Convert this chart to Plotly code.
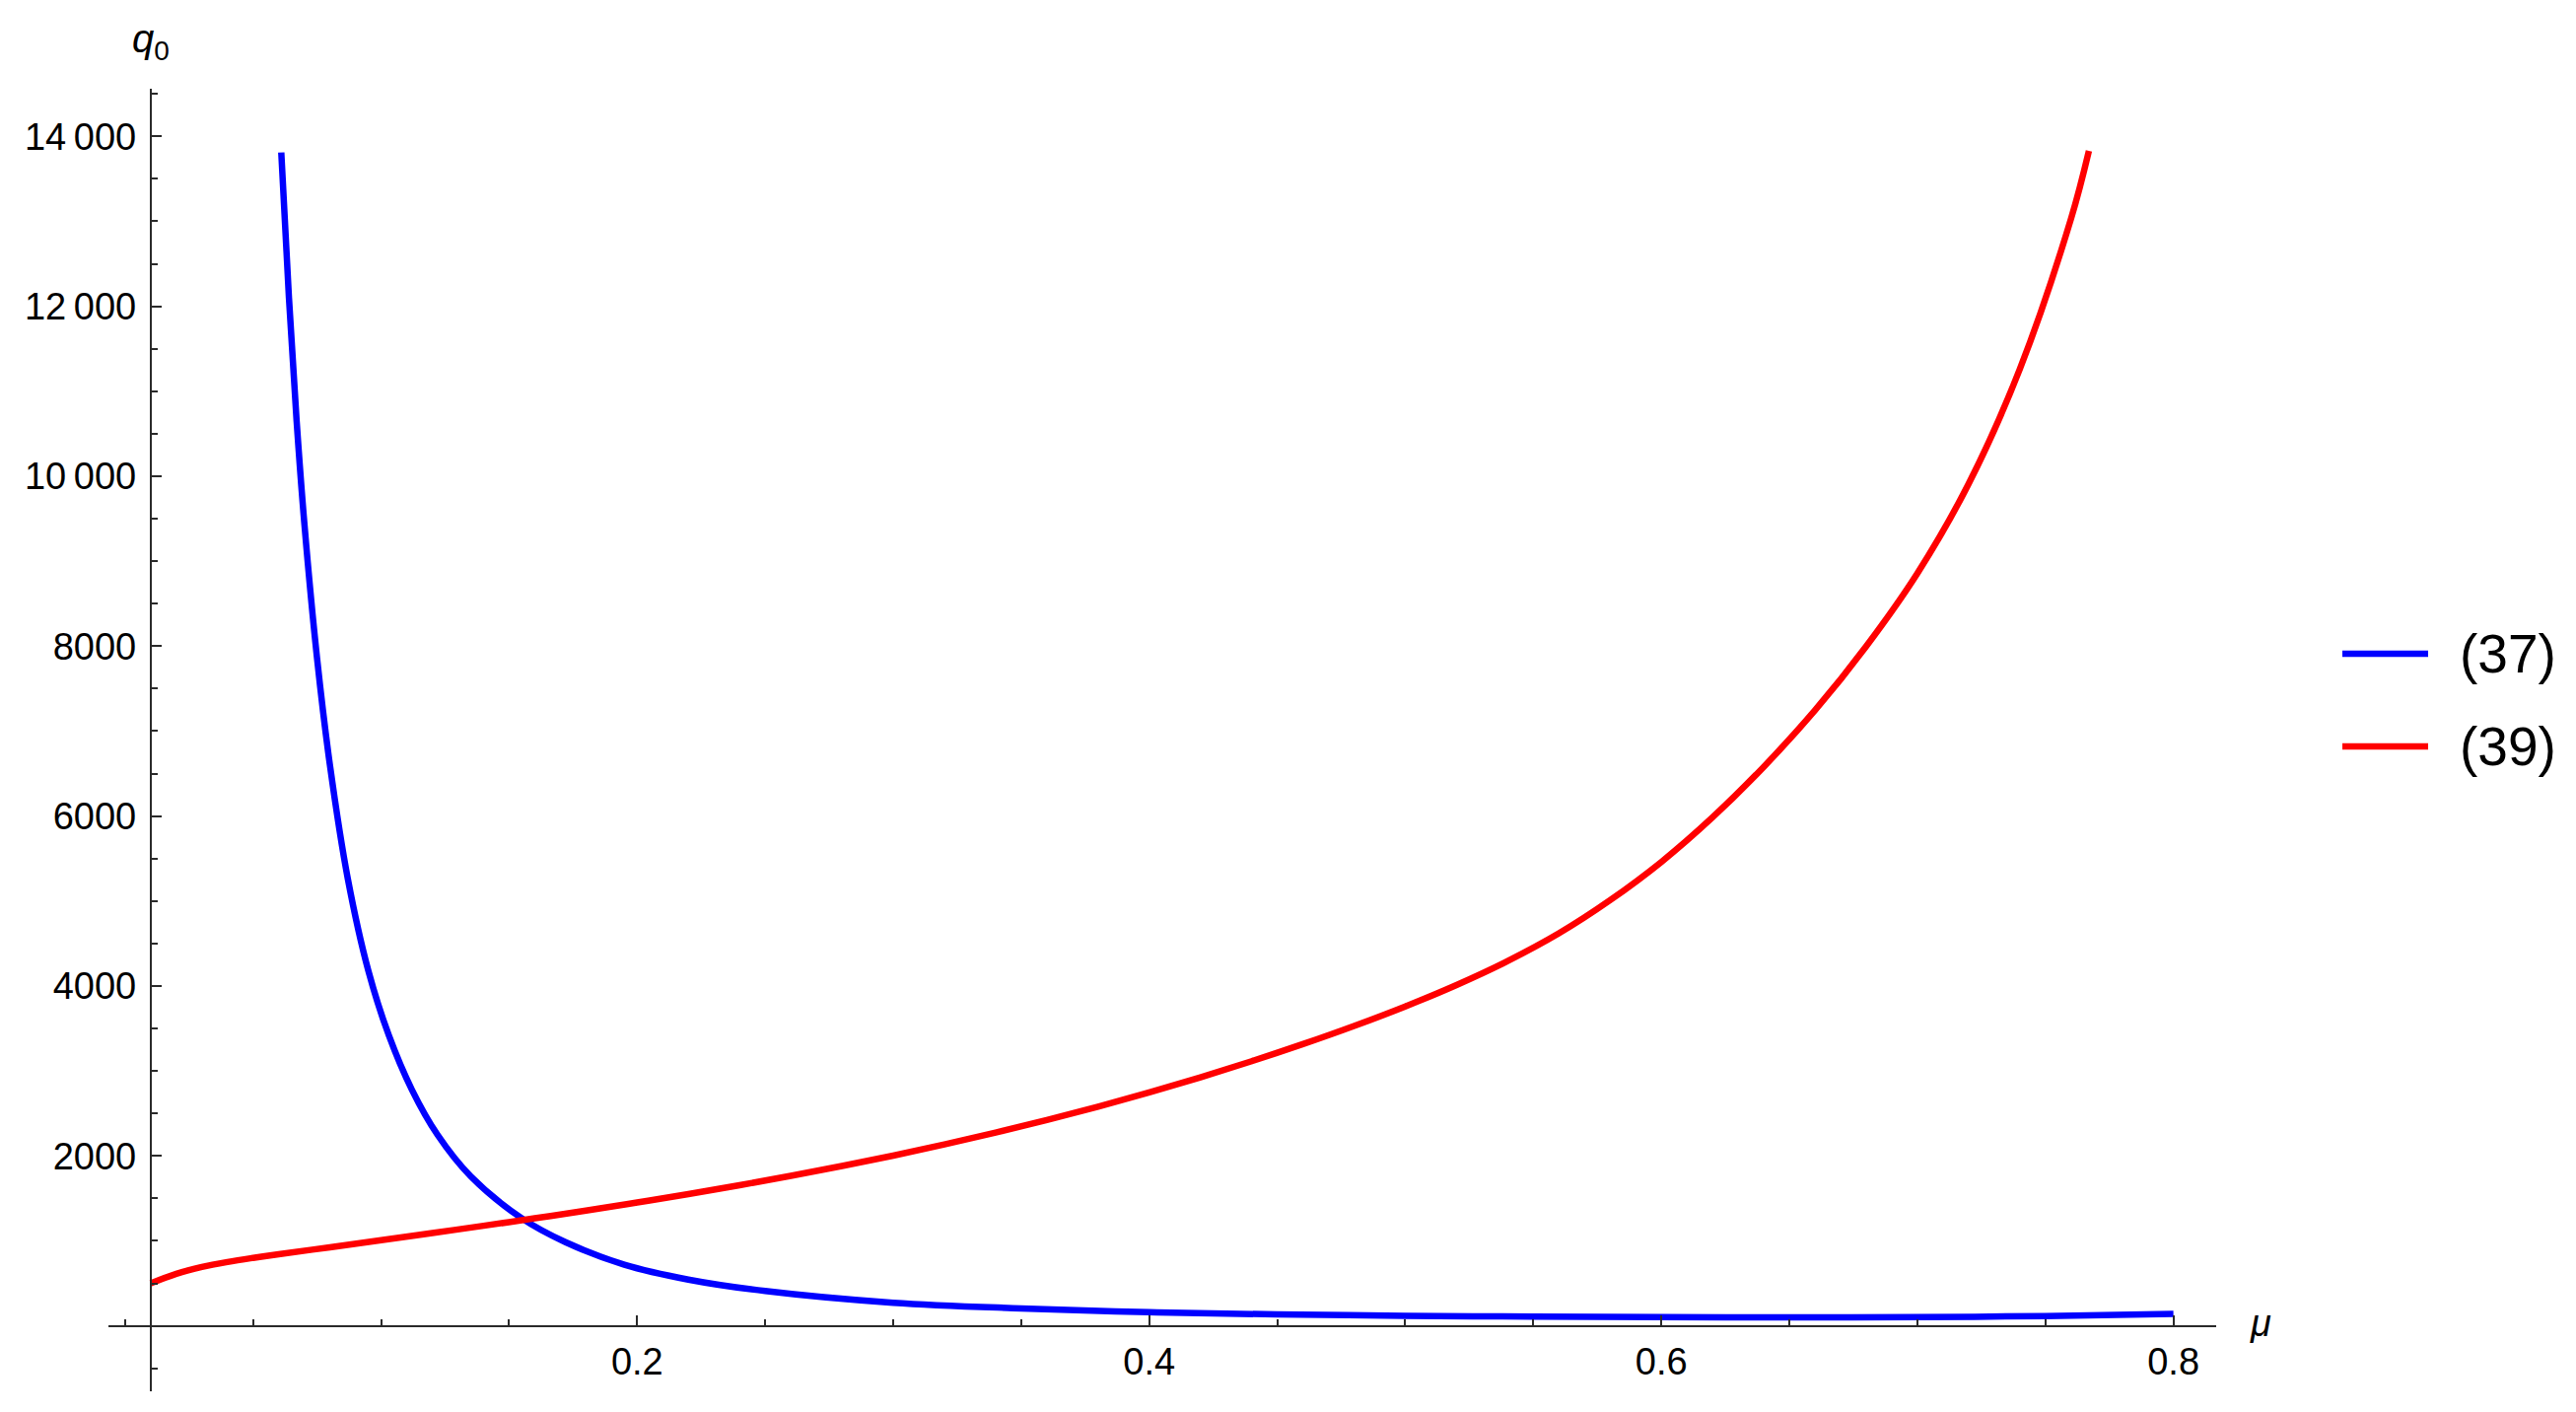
import plotly.graph_objects as go

# ---------------- data ----------------
series_names = ["(37)", "(39)"]
series_colors = ["#0000FF", "#FF0000"]

mu_37 = [0.061, 0.064, 0.067, 0.070, 0.075, 0.080, 0.087, 0.095, 0.103, 0.112,
         0.122, 0.135, 0.155, 0.172, 0.195, 0.220, 0.250, 0.300, 0.350, 0.400,
         0.450, 0.500, 0.550, 0.600, 0.650, 0.700, 0.750, 0.800]
q0_37 = [13810, 12100, 10650, 9450, 7850, 6600, 5260, 4180, 3420, 2780,
         2250, 1760, 1265, 985, 720, 545, 410, 272, 205, 160,
         135, 119, 109, 103, 101, 104, 115, 140]

mu_39 = [0.010, 0.020, 0.030, 0.040, 0.050, 0.060, 0.080, 0.100, 0.120, 0.140,
         0.160, 0.180, 0.200, 0.220, 0.240, 0.260, 0.280, 0.300, 0.320, 0.340,
         0.360, 0.380, 0.400, 0.420, 0.440, 0.460, 0.480, 0.500, 0.520, 0.540,
         0.560, 0.580, 0.600, 0.620, 0.640, 0.660, 0.680, 0.700, 0.720, 0.740,
         0.760, 0.767]
q0_39 = [500, 612, 693, 752, 800, 843, 925, 1008, 1092, 1178,
         1266, 1357, 1452, 1551, 1655, 1765, 1881, 2004, 2135, 2274,
         2422, 2580, 2748, 2926, 3115, 3316, 3530, 3760, 4012, 4294,
         4620, 5010, 5460, 5985, 6580, 7244, 7998, 8857, 9909, 11260,
         13030, 13830]

x_tick_vals = [0.2, 0.4, 0.6, 0.8]
x_tick_text = ["0.2", "0.4", "0.6", "0.8"]
y_tick_vals = [2000, 4000, 6000, 8000, 10000, 12000, 14000]
y_tick_text = ["2000", "4000", "6000", "8000", "10\u2009000", "12\u2009000", "14\u2009000"]
x_minor_vals = [0.0, 0.05, 0.1, 0.15, 0.25, 0.3, 0.35, 0.45, 0.5, 0.55, 0.65, 0.7, 0.75]
y_minor_vals = [-500, 500, 1000, 1500, 2500, 3000, 3500, 4500, 5000, 5500, 6500, 7000, 7500,
                8500, 9000, 9500, 10500, 11000, 11500, 12500, 13000, 13500, 14500]

x_title = "<i>μ</i>"
y_title = "<i>q</i><sub>0</sub>"

# ---------------- layout constants ----------------
PAGE_W, PAGE_H = 2613, 1432
OFF = 8                      # default body margin of the html page
W, H = PAGE_W - 2 * OFF, PAGE_H - 2 * OFF
PLOT_X0, PLOT_X1 = 110, 2248  # plot area on the page (pixels)
PLOT_Y0, PLOT_Y1 = 90, 1411
ML = PLOT_X0 - OFF
MT = PLOT_Y0 - OFF
PW = PLOT_X1 - PLOT_X0
PH = PLOT_Y1 - PLOT_Y0
MR = W - ML - PW
MB = H - MT - PH

X_RANGE = [-0.0065, 0.8167]
Y_RANGE = [-770, 14560]
Y_AXIS_AT = 0.01   # mu where the vertical axis crosses
X_AXIS_AT = 0.0    # q0 where the horizontal axis crosses
FONT = "Liberation Sans, Arial, sans-serif"
AX_COLOR = "#2a2a2a"
LINE_W = 6.5


def px_to_paper_x(px):
    return (px - PLOT_X0) / PW


def px_to_paper_y(py):
    return (PLOT_Y1 - py) / PH


yaxis_pos = (Y_AXIS_AT - X_RANGE[0]) / (X_RANGE[1] - X_RANGE[0])
xaxis_pos = (X_AXIS_AT - Y_RANGE[0]) / (Y_RANGE[1] - Y_RANGE[0])

fig = go.Figure()
for name, color, xs, ys in [(series_names[0], series_colors[0], mu_37, q0_37),
                            (series_names[1], series_colors[1], mu_39, q0_39)]:
    fig.add_trace(go.Scatter(x=xs, y=ys, mode="lines", name=name,
                             line=dict(color=color, width=LINE_W, shape="spline", smoothing=1.0),
                             showlegend=False))

fig.update_layout(
    width=W, height=H,
    margin=dict(l=ML, r=MR, t=MT, b=MB, autoexpand=False),
    paper_bgcolor="white", plot_bgcolor="white",
    font=dict(family=FONT, color="black", size=38),
    showlegend=False,
    xaxis=dict(
        range=X_RANGE, anchor="free", position=xaxis_pos,
        showgrid=False, zeroline=False, showline=True, linecolor=AX_COLOR, linewidth=2,
        tickmode="array", tickvals=x_tick_vals, ticktext=x_tick_text,
        ticks="inside", ticklen=10, tickwidth=1.8, tickcolor=AX_COLOR,
        ticklabelstandoff=3,
        tickfont=dict(family=FONT, size=38, color="black"),
        minor=dict(tickmode="array", tickvals=x_minor_vals, ticks="inside",
                   ticklen=6, tickwidth=1.5, tickcolor=AX_COLOR, showgrid=False),
        automargin=False,
    ),
    yaxis=dict(
        range=Y_RANGE, anchor="free", position=yaxis_pos,
        showgrid=False, zeroline=False, showline=True, linecolor=AX_COLOR, linewidth=2,
        tickmode="array", tickvals=y_tick_vals, ticktext=y_tick_text,
        ticks="inside", ticklen=10, tickwidth=1.8, tickcolor=AX_COLOR,
        ticklabelstandoff=6,
        tickfont=dict(family=FONT, size=38, color="black"),
        minor=dict(tickmode="array", tickvals=y_minor_vals, ticks="inside",
                   ticklen=6, tickwidth=1.5, tickcolor=AX_COLOR, showgrid=False),
        automargin=False,
    ),
)

# axis titles
fig.add_annotation(text=y_title, xref="paper", yref="paper",
                   x=yaxis_pos, y=px_to_paper_y(42), xanchor="center", yanchor="middle",
                   showarrow=False, font=dict(family=FONT, size=40, color="black"))
fig.add_annotation(text=x_title, xref="paper", yref="paper",
                   x=px_to_paper_x(2293), y=px_to_paper_y(1342), xanchor="center", yanchor="middle",
                   showarrow=False, font=dict(family=FONT, size=38, color="black"))

# legend (drawn manually to match the long line samples)
legend_rows_px = [663, 757]
for name, color, ypx in zip(series_names, series_colors, legend_rows_px):
    fig.add_shape(type="line", xref="paper", yref="paper",
                  x0=px_to_paper_x(2376), x1=px_to_paper_x(2463),
                  y0=px_to_paper_y(ypx), y1=px_to_paper_y(ypx),
                  line=dict(color=color, width=LINE_W))
    fig.add_annotation(text=name, xref="paper", yref="paper",
                       x=px_to_paper_x(2493), y=px_to_paper_y(ypx),
                       xanchor="left", yanchor="middle", showarrow=False,
                       font=dict(family=FONT, size=55, color="black"))

fig.write_html("out.html")
